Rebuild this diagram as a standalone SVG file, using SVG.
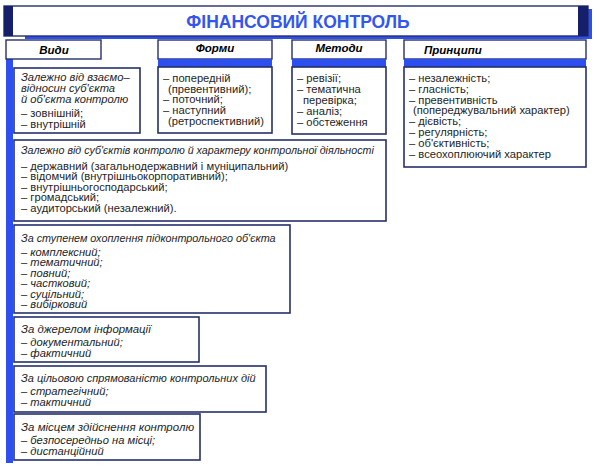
<svg xmlns="http://www.w3.org/2000/svg" width="600" height="472" viewBox="0 0 600 472">
<style>
.box{fill:#fff;stroke:#25306a;stroke-width:1.6}
.hdr{fill:#fff;stroke:#25306a;stroke-width:1.4}
.band{fill:#2d4ff0}
.navy{fill:#16206a}
.t{font-family:"Liberation Sans",Arial,sans-serif;font-size:11.2px;fill:#1e1e1e}
.i{font-style:italic}
.h{font-family:"Liberation Sans",Arial,sans-serif;font-size:11.5px;font-weight:bold;font-style:italic;fill:#000}
.title{font-family:"Liberation Sans",Arial,sans-serif;font-size:17.5px;font-weight:bold;fill:#3356ee}
</style>
<rect width="600" height="472" fill="#fff"/>
<g id="title">
<rect x="25" y="9" width="567" height="30" class="band"/>
<rect x="4" y="6" width="584" height="30" fill="#fff" stroke="#25306a" stroke-width="1.4"/>
<rect x="4" y="6" width="9" height="30" class="navy"/>
<rect x="578" y="6" width="10" height="30" class="navy"/>
<text x="298" y="27.5" text-anchor="middle" class="title">ФІНАНСОВИЙ КОНТРОЛЬ</text>
</g>
<g id="vydy">
<rect x="6" y="59" width="7" height="404" class="band"/>
<rect x="6" y="40" width="95" height="19" class="hdr"/>
<text x="54" y="54" text-anchor="middle" class="h">Види</text>
</g>
<g id="formy">
<rect x="158" y="40" width="114" height="19" class="hdr"/>
<rect x="158" y="59" width="114" height="8" class="band"/>
<text x="215" y="52" text-anchor="middle" class="h">Форми</text>
<rect x="158" y="67" width="114" height="66" class="box"/>
<text class="t"><tspan x="163" y="82">– попередній</tspan><tspan x="168" y="92.5">(превентивний);</tspan><tspan x="163" y="103">– поточний;</tspan><tspan x="163" y="114">– наступний</tspan><tspan x="168" y="125">(ретроспективний)</tspan></text>
</g>
<g id="metody">
<rect x="292" y="40" width="94" height="19" class="hdr"/>
<rect x="292" y="59" width="94" height="8" class="band"/>
<text x="339" y="52" text-anchor="middle" class="h">Методи</text>
<rect x="292" y="67" width="94" height="67" class="box"/>
<text class="t"><tspan x="297" y="82">– ревізії;</tspan><tspan x="297" y="93">– тематична</tspan><tspan x="303" y="104">перевірка;</tspan><tspan x="297" y="115">– аналіз;</tspan><tspan x="297" y="126">– обстеження</tspan></text>
</g>
<g id="pryntsypy">
<rect x="404" y="40" width="182" height="19" class="hdr"/>
<rect x="404" y="59" width="182" height="8" class="band"/>
<text x="424" y="54" class="h">Принципи</text>
<rect x="404" y="67" width="182" height="100" class="box"/>
<text class="t" font-size="11.6"><tspan x="409" y="82">– незалежність;</tspan><tspan x="409" y="92.8">– гласність;</tspan><tspan x="409" y="103.6">– превентивність</tspan><tspan x="413" y="114.4">(попереджувальний характер)</tspan><tspan x="409" y="125.2">– дієвість;</tspan><tspan x="409" y="136">– регулярність;</tspan><tspan x="409" y="146.8">– об'єктивність;</tspan><tspan x="409" y="157.6">– всеохоплюючий характер</tspan></text>
</g>
<g id="vyd1">
<rect x="14" y="68" width="126" height="65" class="box"/>
<text class="t"><tspan x="21" y="81" class="i" font-size="11.2">Залежно від взаємо–</tspan><tspan x="21" y="92" class="i" font-size="11.2">відносин суб'єкта</tspan><tspan x="21" y="103" class="i" font-size="11.2">й об'єкта контролю</tspan><tspan x="21" y="117">– зовнішній;</tspan><tspan x="21" y="128">– внутрішній</tspan></text>
</g>
<g id="vyd2">
<rect x="14" y="140" width="372" height="81" class="box"/>
<text class="t"><tspan x="21" y="154" class="i" font-size="10.7">Залежно від суб'єктів контролю й характеру контрольної діяльності</tspan><tspan x="21" y="169.5">– державний (загальнодержавний і муніципальний)</tspan><tspan x="21" y="180">– відомчий (внутрішньокорпоративний);</tspan><tspan x="21" y="190.5">– внутрішньогосподарський;</tspan><tspan x="21" y="201">– громадський;</tspan><tspan x="21" y="211.5">– аудиторський (незалежний).</tspan></text>
</g>
<g id="vyd3">
<rect x="14" y="225" width="276" height="88" class="box"/>
<text class="t i"><tspan x="21" y="242" font-size="10.8">За ступенем охоплення підконтрольного об'єкта</tspan><tspan x="21" y="255.5">– комплексний;</tspan><tspan x="21" y="266">– тематичний;</tspan><tspan x="21" y="276.5">– повний;</tspan><tspan x="21" y="287">– частковий;</tspan><tspan x="21" y="297.5">– суцільний;</tspan><tspan x="21" y="308">– вибірковий</tspan></text>
</g>
<g id="vyd4">
<rect x="14" y="317" width="185" height="45" class="box"/>
<text class="t i"><tspan x="21" y="333" font-size="11.4">За джерелом інформації</tspan><tspan x="21" y="346">– документальний;</tspan><tspan x="21" y="356.5">– фактичний</tspan></text>
</g>
<g id="vyd5">
<rect x="14" y="366" width="252" height="46" class="box"/>
<text class="t i"><tspan x="21" y="382" font-size="11">За цільовою спрямованістю контрольних дій</tspan><tspan x="21" y="395">– стратегічний;</tspan><tspan x="21" y="405.5">– тактичний</tspan></text>
</g>
<g id="vyd6">
<rect x="14" y="414" width="186" height="46" class="box"/>
<text class="t i"><tspan x="21" y="431" font-size="11.5">За місцем здійснення контролю</tspan><tspan x="21" y="444">– безпосередньо на місці;</tspan><tspan x="21" y="454.5">– дистанційний</tspan></text>
</g>
<g id="connectors"></g>
</svg>
